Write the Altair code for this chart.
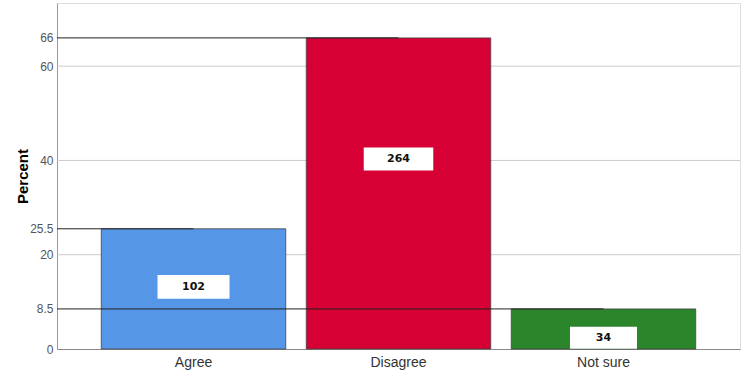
import altair as alt
import pandas as pd

categories = ["Agree", "Disagree", "Not sure"]
counts = [102, 264, 34]
percents = [25.5, 66.0, 8.5]
label_y = [13.2, 40.3, 2.4]
grid_values = [20, 40, 60]
tick_values = [0, 8.5, 20, 25.5, 40, 60, 66]

df = pd.DataFrame({"cat": categories, "count": counts, "pct": percents, "ly": label_y})
grid_df = pd.DataFrame({"g": grid_values})

colors = ["#5596E6", "#D70034", "#2B862B"]

xscale = alt.Scale(domain=categories, paddingInner=0.1, paddingOuter=0.216)
yscale = alt.Scale(domain=[0, 73.4], nice=False, zero=True)

xenc = alt.X("cat:N", scale=xscale, sort=categories,
             axis=alt.Axis(title=None, labelAngle=0, ticks=False, labelPadding=6,
                           labelFont="Liberation Sans", labelFontSize=14, labelColor="#333",
                           domainColor="#888", grid=False))

grid = alt.Chart(grid_df).mark_rule(color="#cccccc", strokeWidth=1).encode(
    y=alt.Y("g:Q", scale=yscale,
            axis=alt.Axis(values=tick_values, format=".1~f", title="Percent", grid=False, ticks=False,
                          labelFont="Liberation Sans", labelFontSize=12, labelColor="#555555",
                          labelPadding=4, domainColor="#999",
                          titleFont="Liberation Sans", titleFontSize=15, titleFontWeight="bold",
                          titleColor="#000", titleAngle=-90, titleX=-35, titleY=173,
                          titleAlign="center", titleBaseline="middle"))
)

bars = alt.Chart(df).mark_bar(stroke="#444", strokeWidth=0.8).encode(
    x=xenc,
    y=alt.Y("pct:Q", scale=yscale),
    color=alt.Color("cat:N", scale=alt.Scale(domain=categories, range=colors), legend=None),
)

refs = alt.Chart(df).mark_rule(color="#222", strokeWidth=1).encode(
    x=alt.X("cat:N", scale=xscale, sort=categories),
    x2=alt.value(0),
    y=alt.Y("pct:Q", scale=yscale),
)

boxes = alt.Chart(df).mark_point(
    shape="M-1,-0.33L1,-0.33L1,0.33L-1,0.33Z", filled=True, fill="white", opacity=1, strokeWidth=0
).encode(
    x=alt.X("cat:N", scale=xscale, sort=categories),
    y=alt.Y("ly:Q", scale=yscale),
    size=alt.Size("cat:N", scale=alt.Scale(domain=categories, range=[5184, 4489, 3136]), legend=None),
)

texts = alt.Chart(df).mark_text(font="DejaVu Sans", fontWeight="bold", fontSize=11, color="#111").encode(
    x=alt.X("cat:N", scale=xscale, sort=categories),
    y=alt.Y("ly:Q", scale=yscale),
    text="count:Q",
)

chart = alt.layer(grid, bars, refs, boxes, texts).properties(
    width=683, height=346,
    autosize=alt.AutoSizeParams(type="none"),
    padding={"left": 57, "top": 3, "right": 10, "bottom": 30},
).configure_view(stroke=None).configure(background="white")

chart.save("out.html", embed_options={"renderer": "svg", "actions": False})
